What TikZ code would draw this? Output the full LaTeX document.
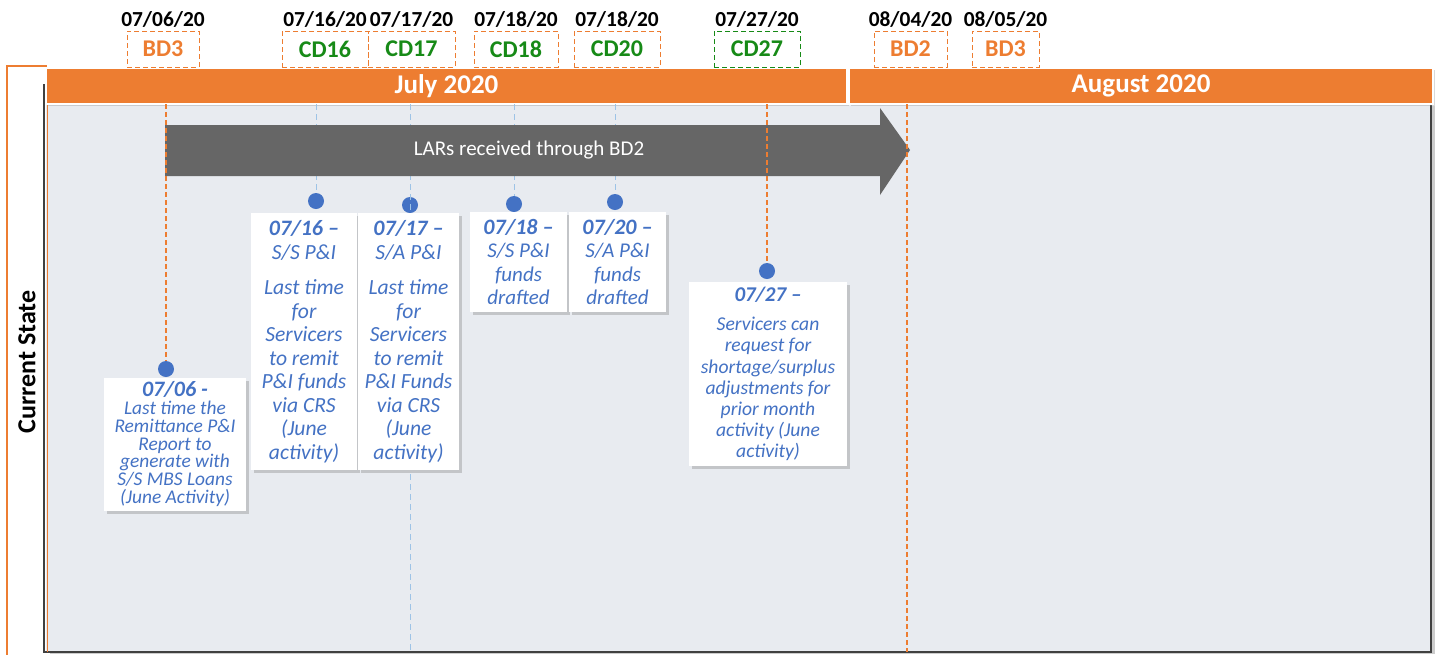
\documentclass[tikz,border=0pt]{standalone}
\usepackage{fontspec}
\setmainfont{Carlito}
\usetikzlibrary{positioning,shadows}
\definecolor{barorange}{HTML}{ED7D31}
\definecolor{taggreen}{HTML}{178A17}
\definecolor{noteblue}{HTML}{4472C4}
\definecolor{lineblue}{HTML}{9DC3E6}
\definecolor{panelgray}{HTML}{E8EBF0}
\definecolor{arrowgray}{HTML}{666666}
\begin{document}
\begin{tikzpicture}[x=0.5pt,y=-0.5pt]
        \tikzset{
        month/.style={fill=barorange, draw=white, line width=0.6pt, text=white, inner sep=0pt,
          minimum height=18pt, font=\bfseries\fontsize{13.5}{16}\selectfont,
          drop shadow={shadow xshift=1pt, shadow yshift=-1pt, opacity=0.3}},
        tagbox/.style={draw=barorange, dash pattern=on 2.5pt off 1.5pt, line width=0.5pt,
          minimum height=18pt, inner sep=0pt, font=\bfseries\fontsize{12}{14}\selectfont},
        datelbl/.style={inner sep=0pt, font=\bfseries\fontsize{10.7}{12}\selectfont},
        dot/.style={circle, fill=noteblue, minimum size=8pt, inner sep=0pt},
        note/.style={fill=white, text=noteblue, align=center, inner sep=0pt,
          drop shadow={shadow xshift=1.5pt, shadow yshift=-1.5pt, opacity=0.35}},
        odash/.style={draw=barorange, dash pattern=on 2.5pt off 1.5pt, line width=0.6pt},
        bdash/.style={draw=lineblue, dash pattern=on 3pt off 2pt, line width=0.5pt}
        }
        \useasboundingbox (0,0) rectangle (1439,655);

        % lane frame and panel
        \draw[barorange, line width=0.6pt] (47,66) -- (7,66) -- (7,655);
        \fill[panelgray, drop shadow={shadow xshift=2pt, shadow yshift=-1pt, opacity=0.4}] (46,104) rectangle (1431,652);
        \draw[black!75, line width=0.6pt] (44,84) -- (44,652) -- (1431,652) -- (1431,104);
        \draw[barorange, line width=0.4pt] (47,104) -- (47,652);
        \node[rotate=90, font=\bfseries\fontsize{13}{15}\selectfont] (lane) at (27,362) {Current State};

        % months
        \node[month, minimum width=400.5pt] (july) at (446.5,86) {July 2020};
        \node[month, minimum width=292pt] (aug) at (1141,86) {August 2020};

        % day tags
        \node[tagbox, minimum width=36pt, text=barorange] (bd3a) at (163,49) {BD3};
        \node[tagbox, minimum width=43pt, text=taggreen] (cd16) at (325,49) {CD16};
        \node[tagbox, minimum width=43.5pt, text=taggreen] (cd17) at (411.5,49) {CD17};
        \node[tagbox, minimum width=42pt, text=taggreen] (cd18) at (516,49) {CD18};
        \node[tagbox, minimum width=43pt, text=taggreen] (cd20) at (617,49) {CD20};
        \node[tagbox, draw=taggreen, minimum width=43pt, text=taggreen] (cd27) at (757,49) {CD27};
        \node[tagbox, minimum width=36.5pt, text=barorange] (bd2) at (910.5,49) {BD2};
        \node[tagbox, minimum width=33.5pt, text=barorange] (bd3b) at (1005.5,49) {BD3};

        \node[datelbl, above=1.5pt of bd3a] (dt0706) {07/06/20};
        \node[datelbl, above=1.5pt of cd16] (dt0716) {07/16/20};
        \node[datelbl, above=1.5pt of cd17] (dt0717) {07/17/20};
        \node[datelbl, above=1.5pt of cd18] (dt0718) {07/18/20};
        \node[datelbl, above=1.5pt of cd20] (dt0720) {07/18/20};
        \node[datelbl, above=1.5pt of cd27] (dt0727) {07/27/20};
        \node[datelbl, above=1.5pt of bd2] (dt0804) {08/04/20};
        \node[datelbl, above=1.5pt of bd3b] (dt0805) {08/05/20};

        % dots
        \node[dot] (d0706) at (166,369) {};
        \node[dot] (d0716) at (316,201) {};
        \node[dot] (d0717) at (410,205) {};
        \node[dot] (d0718) at (514,204) {};
        \node[dot] (d0720) at (615,202) {};
        \node[dot] (d0727) at (767,271) {};

        \coordinate (t0706) at (166,104);
        \coordinate (t0716) at (316,104);
        \coordinate (t0717) at (410,104);
        \coordinate (b0717) at (410,652);
        \coordinate (t0718) at (514,104);
        \coordinate (t0720) at (615,104);
        \coordinate (t0727) at (767,104);
        \coordinate (t0804) at (907,104);
        \coordinate (b0804) at (907,652);

        \draw[bdash] (t0716) -- (d0716);
        \draw[bdash] (t0717) -- (b0717);
        \draw[bdash] (t0718) -- (d0718);
        \draw[bdash] (t0720) -- (d0720);

        % LAR window
        \fill[arrowgray] (165,125) -- (880,125) -- (880,108) -- (910,150) -- (880,195) -- (880,176) -- (165,176) -- cycle;
        \node[text=white, font=\fontsize{10.5}{12}\selectfont] (lars) at (529,150) {LARs received through BD2};

        \draw[odash] (t0706) -- (d0706);
        \draw[odash] (t0727) -- (d0727);
        \draw[odash] (t0804) -- (b0804);

        % notes
        \node[note, minimum width=71pt, minimum height=66.5pt, font=\itshape\fontsize{9.7}{8.9}\selectfont] (n0706) at (175,444)
          {{\bfseries\fontsize{11}{11}\selectfont 07/06 -}\\Last time the\\Remittance P\&I\\Report to\\generate with\\S/S MBS Loans\\(June Activity)};
        \node[note, minimum width=53pt, minimum height=128.5pt, font=\itshape\fontsize{10.8}{11.75}\selectfont] (n0716) at (304,341.5)
          {{\bfseries\fontsize{11}{11.75}\selectfont 07/16 --}\\S/S P\&I\\[6pt]Last time\\for\\Servicers\\to remit\\P\&I funds\\via CRS\\(June\\activity)};
        \node[note, minimum width=50.5pt, minimum height=128.5pt, font=\itshape\fontsize{10.8}{11.75}\selectfont] (n0717) at (408.5,341.5)
          {{\bfseries\fontsize{11}{11.75}\selectfont 07/17 --}\\S/A P\&I\\[6pt]Last time\\for\\Servicers\\to remit\\P\&I Funds\\via CRS\\(June\\activity)};
        \node[note, minimum width=48.5pt, minimum height=50pt, font=\itshape\fontsize{10.5}{11.75}\selectfont] (n0718) at (518.5,262)
          {{\bfseries\fontsize{11}{11.75}\selectfont 07/18 --}\\S/S P\&I\\funds\\drafted};
        \node[note, minimum width=48.5pt, minimum height=50pt, font=\itshape\fontsize{10.5}{11.75}\selectfont] (n0720) at (617.5,262)
          {{\bfseries\fontsize{11}{11.75}\selectfont 07/20 --}\\S/A P\&I\\funds\\drafted};
        \node[note, minimum width=79pt, minimum height=92pt, font=\itshape\fontsize{9.8}{10.6}\selectfont] (n0727) at (768,374)
          {{\bfseries\fontsize{10.5}{10.6}\selectfont 07/27 --}\\[4pt]Servicers can\\request for\\shortage/surplus\\adjustments for\\prior month\\activity (June\\activity)};
        \end{tikzpicture}
\end{document}
